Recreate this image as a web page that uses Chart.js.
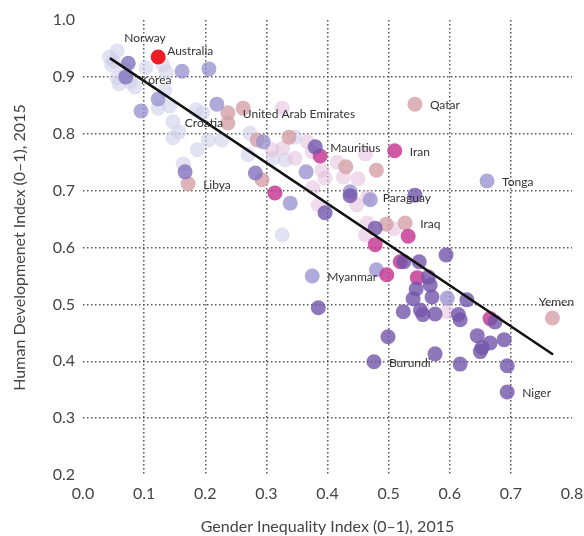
<!DOCTYPE html>
<html>
<head>
<meta charset="utf-8">
<script src="https://cdn.jsdelivr.net/npm/chart.js@4"></script>
<style>
  html, body { margin: 0; padding: 0; background: #fff; }
</style>
</head>
<body>
<canvas id="giiChart" width="584" height="536"></canvas>
<script>
// [GII, HDI] pairs, grouped by dot colour
const lightPoints = [
  [0.056, 0.946], [0.043, 0.935], [0.047, 0.921], [0.056, 0.898], [0.059, 0.888],
  [0.077, 0.891], [0.085, 0.882], [0.069, 0.912], [0.103, 0.916], [0.131, 0.921],
  [0.136, 0.909], [0.123, 0.845], [0.142, 0.849], [0.134, 0.877], [0.147, 0.821],
  [0.157, 0.803], [0.147, 0.793], [0.185, 0.842], [0.196, 0.837], [0.187, 0.772],
  [0.164, 0.747], [0.205, 0.789], [0.227, 0.789], [0.273, 0.801], [0.270, 0.763],
  [0.311, 0.757], [0.331, 0.754], [0.347, 0.794], [0.326, 0.622], [0.050, 0.928]
];
const lightPinkPoints = [
  [0.326, 0.845], [0.309, 0.772], [0.327, 0.775], [0.367, 0.786], [0.375, 0.768],
  [0.347, 0.757], [0.391, 0.736], [0.396, 0.722], [0.416, 0.750], [0.426, 0.724],
  [0.450, 0.721], [0.462, 0.765], [0.376, 0.705], [0.385, 0.675], [0.448, 0.675],
  [0.466, 0.689], [0.465, 0.643], [0.509, 0.633], [0.462, 0.622], [0.596, 0.487]
];
const rosePoints = [
  [0.172, 0.712], [0.237, 0.837], [0.262, 0.845], [0.237, 0.819], [0.285, 0.789],
  [0.293, 0.719], [0.337, 0.794], [0.430, 0.742], [0.480, 0.736], [0.496, 0.641],
  [0.527, 0.643], [0.543, 0.852], [0.768, 0.476]
];
const lavenderPoints = [
  [0.162, 0.910], [0.206, 0.914], [0.123, 0.861], [0.095, 0.840], [0.219, 0.852],
  [0.295, 0.786], [0.339, 0.678], [0.365, 0.733], [0.437, 0.698], [0.470, 0.684],
  [0.375, 0.550], [0.480, 0.561], [0.596, 0.511], [0.661, 0.717]
];
const midPoints = [
  [0.074, 0.924], [0.070, 0.900], [0.167, 0.733], [0.282, 0.731]
];
const magentaPoints = [
  [0.388, 0.761], [0.510, 0.770], [0.314, 0.696], [0.532, 0.620], [0.478, 0.605],
  [0.497, 0.552], [0.519, 0.575], [0.547, 0.547], [0.666, 0.475]
];
const purplePoints = [
  [0.380, 0.777], [0.396, 0.661], [0.437, 0.691], [0.543, 0.692], [0.478, 0.634],
  [0.525, 0.575], [0.550, 0.575], [0.594, 0.587], [0.565, 0.548], [0.568, 0.534],
  [0.545, 0.527], [0.540, 0.510], [0.571, 0.513], [0.628, 0.508], [0.524, 0.487],
  [0.552, 0.490], [0.556, 0.482], [0.576, 0.483], [0.614, 0.482], [0.617, 0.473],
  [0.674, 0.469], [0.499, 0.443], [0.645, 0.445], [0.666, 0.432], [0.689, 0.438],
  [0.653, 0.424], [0.650, 0.417], [0.576, 0.413], [0.617, 0.395], [0.694, 0.392],
  [0.694, 0.346], [0.476, 0.399], [0.385, 0.494]
];
const highlightPoints = [[0.123, 0.935]];

// fitted line
const trendGII = [0.044, 0.769];
const trendHDI = [0.933, 0.412];

// labelled countries
const labelNames = ['Norway', 'Australia', 'Korea', 'Croatia', 'United Arab Emirates', 'Libya',
  'Mauritius', 'Iran', 'Qatar', 'Paraguay', 'Tonga', 'Iraq', 'Myanmar', 'Burundi', 'Niger', 'Yemen'];
const labelGII = [0.056, 0.123, 0.070, 0.147, 0.237, 0.172, 0.380, 0.510, 0.543, 0.466, 0.661, 0.527, 0.375, 0.476, 0.694, 0.768];
const labelHDI = [0.946, 0.935, 0.900, 0.821, 0.837, 0.712, 0.777, 0.770, 0.852, 0.689, 0.717, 0.643, 0.550, 0.399, 0.346, 0.476];

const xTicks = [0, 0.1, 0.2, 0.3, 0.4, 0.5, 0.6, 0.7, 0.8];
const yTicks = [0.2, 0.3, 0.4, 0.5, 0.6, 0.7, 0.8, 0.9, 1.0];

const labelOffsets = {
  'Norway': { dx: 7, dy: -13 },
  'Australia': { dx: 9, dy: -6 },
  'Korea': { dx: 15, dy: 3 },
  'Croatia': { dx: 12, dy: 1 },
  'Yemen': { dx: 4, dy: -16, align: 'center' }
};

const toXY = pts => pts.map(p => ({ x: p[0], y: p[1] }));

const countryLabels = {
  id: 'countryLabels',
  afterDatasetsDraw(chart) {
    const { ctx, scales: { x, y } } = chart;
    ctx.save();
    ctx.font = '12px Lato';
    ctx.fillStyle = '#333';
    ctx.textBaseline = 'middle';
    labelNames.forEach((name, i) => {
      const off = labelOffsets[name] || { dx: 15, dy: 1 };
      ctx.textAlign = off.align || 'left';
      ctx.fillText(name,
        x.getPixelForValue(labelGII[i]) + off.dx,
        y.getPixelForValue(labelHDI[i]) + off.dy);
    });
    ctx.restore();
  }
};

function dots(data, color) {
  return {
    data: toXY(data),
    backgroundColor: color,
    borderWidth: 0,
    pointRadius: 7.5,
    pointHoverRadius: 7.5
  };
}

const gridColor = (lo, hi) => ctx =>
  (ctx.tick && ctx.tick.value > lo && ctx.tick.value < hi) ? 'rgba(70,70,70,0.9)' : 'rgba(0,0,0,0)';

new Chart(document.getElementById('giiChart'), {
  type: 'scatter',
  data: {
    datasets: [
      {
        type: 'line',
        data: trendGII.map((v, i) => ({ x: v, y: trendHDI[i] })),
        borderColor: '#111',
        borderWidth: 2.5,
        pointRadius: 0,
        fill: false
      },
      dots(highlightPoints, '#ee1c25'),
      dots(purplePoints, 'rgba(115,85,170,0.8)'),
      dots(magentaPoints, 'rgba(200,60,150,0.85)'),
      dots(midPoints, 'rgba(130,115,190,0.8)'),
      dots(lavenderPoints, 'rgba(150,142,205,0.75)'),
      dots(rosePoints, 'rgba(212,160,168,0.8)'),
      dots(lightPinkPoints, 'rgba(226,190,220,0.55)'),
      dots(lightPoints, 'rgba(208,206,234,0.6)')
    ]
  },
  options: {
    responsive: false,
    animation: false,
    devicePixelRatio: 1,
    events: [],
    layout: { padding: { top: 20, right: 12, bottom: 0, left: 0 } },
    plugins: {
      legend: { display: false },
      tooltip: { enabled: false }
    },
    scales: {
      x: {
        type: 'linear',
        min: xTicks[0],
        max: xTicks[xTicks.length - 1],
        afterBuildTicks: s => { s.ticks = xTicks.map(v => ({ value: v })); },
        afterFit: s => { s.height = 61; s.paddingLeft = 0; s.paddingRight = 0; },
        ticks: {
          padding: 9,
          color: '#444',
          font: { family: 'Lato', size: 16 },
          callback: v => v.toFixed(1)
        },
        grid: { color: gridColor(0.05, 0.75), lineWidth: 1.5, drawTicks: false },
        border: { display: false, dash: [1.5, 2.5] },
        title: {
          display: true,
          text: 'Gender Inequality Index (0–1), 2015',
          color: '#444',
          font: { family: 'Lato', size: 16 },
          padding: { top: 0, bottom: 0 }
        }
      },
      y: {
        type: 'linear',
        min: yTicks[0],
        max: yTicks[yTicks.length - 1],
        afterBuildTicks: s => { s.ticks = yTicks.map(v => ({ value: v })); },
        afterFit: s => { s.width = 83; s.paddingTop = 0; s.paddingBottom = 0; },
        ticks: {
          padding: 8,
          color: '#444',
          font: { family: 'Lato', size: 16 },
          callback: v => v.toFixed(1)
        },
        grid: { color: gridColor(0.25, 0.95), lineWidth: 1.5, drawTicks: false },
        border: { display: false, dash: [1.5, 2.5] },
        title: {
          display: true,
          text: 'Human Developmenet Index (0–1), 2015',
          color: '#444',
          font: { family: 'Lato', size: 16 },
          padding: { top: 10, bottom: 0 }
        }
      }
    }
  },
  plugins: [countryLabels]
});
</script>
</body>
</html>
